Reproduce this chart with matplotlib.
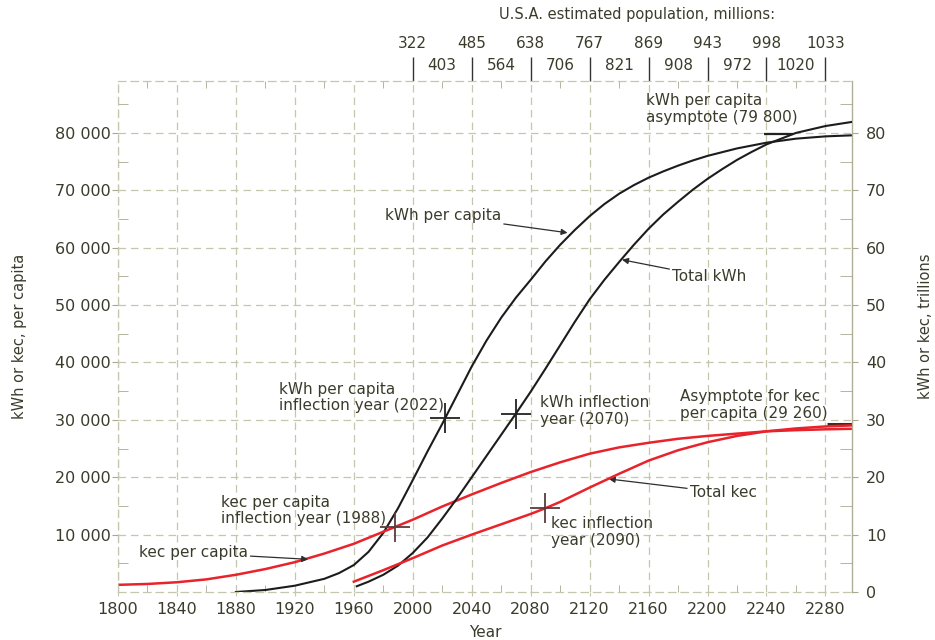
import matplotlib
matplotlib.use("Agg")
import matplotlib.pyplot as plt
from matplotlib.ticker import FixedLocator, FuncFormatter

# ---- data -------------------------------------------------------------
kwh_pc_years = [1880, 1900, 1920, 1940, 1950, 1960, 1970, 1980, 1990, 2000,
                2010, 2020, 2030, 2040, 2050, 2060, 2070, 2080, 2090, 2100,
                2110, 2120, 2130, 2140, 2150, 2160, 2170, 2180, 2190, 2200,
                2220, 2240, 2260, 2280, 2300]
kwh_pc = [0, 350, 1100, 2300, 3300, 4700, 7000, 10300, 14600, 19500,
          24500, 29300, 34300, 39300, 43800, 47800, 51300, 54400, 57600, 60500,
          63100, 65500, 67600, 69400, 70900, 72200, 73300, 74300, 75200, 76000,
          77300, 78300, 79000, 79400, 79600]

kwh_tot_years = [1962, 1970, 1980, 1990, 2000, 2010, 2020, 2030, 2040, 2050,
                 2060, 2070, 2080, 2090, 2100, 2110, 2120, 2130, 2140, 2150,
                 2160, 2170, 2180, 2190, 2200, 2210, 2220, 2230, 2240, 2260,
                 2280, 2300]
kwh_tot = [1.0, 1.8, 3.0, 4.6, 6.8, 9.5, 12.8, 16.3, 20.0, 23.7,
           27.4, 31.1, 34.9, 38.9, 43.0, 47.1, 51.0, 54.4, 57.5, 60.5,
           63.3, 65.8, 68.0, 70.1, 72.0, 73.7, 75.3, 76.7, 78.0, 80.0,
           81.2, 82.0]

kec_pc_years = [1800, 1820, 1840, 1860, 1880, 1900, 1920, 1940, 1960, 1980,
                1988, 2000, 2020, 2040, 2060, 2080, 2100, 2120, 2140, 2160,
                2180, 2200, 2220, 2240, 2260, 2280, 2300]
kec_pc = [1250, 1400, 1700, 2200, 3000, 4000, 5200, 6700, 8400, 10500,
          11340, 12600, 14900, 17000, 19000, 20900, 22600, 24100, 25200, 26000,
          26700, 27200, 27600, 28000, 28200, 28350, 28450]

kec_tot_years = [1960, 1980, 2000, 2020, 2040, 2060, 2080, 2090, 2100, 2120,
                 2140, 2160, 2180, 2200, 2220, 2240, 2260, 2280, 2300]
kec_tot = [1.8, 3.8, 5.9, 8.1, 10.0, 11.8, 13.6, 14.6, 15.7, 18.2,
           20.6, 22.9, 24.7, 26.1, 27.2, 28.0, 28.5, 28.85, 29.05]

kwh_pc_asymptote = 79800
kec_pc_asymptote = 29260

# inflection points: (year, value)
kwh_pc_inflection = (2022, 30300)
kwh_tot_inflection = (2070, 31.1)
kec_pc_inflection = (1988, 11340)
kec_tot_inflection = (2090, 14.6)

pop_years_upper = [2000, 2040, 2080, 2120, 2160, 2200, 2240, 2280]
pop_upper = ["322", "485", "638", "767", "869", "943", "998", "1033"]
pop_years_lower = [2020, 2060, 2100, 2140, 2180, 2220, 2260, 2300]
pop_lower = ["403", "564", "706", "821", "908", "972", "1020", "1055"]

year_ticks = list(range(1800, 2281, 40))
left_ticks = list(range(10000, 80001, 10000))
right_ticks = list(range(0, 81, 10))

# ---- style ------------------------------------------------------------
TXT = "#3b3b2c"
GRID = "#c6c6ae"
BLACK = "#1c1c1c"
RED = "#e8232b"
plt.rcParams["font.family"] = ["DejaVu Sans"]

fig = plt.figure(figsize=(9.35, 6.4), dpi=100)
ax = fig.add_axes([0.1262, 0.075, 0.785, 0.798])
ax2 = ax.twinx()

XMAX = 2298
ax.set_xlim(1800, XMAX)
ax.set_ylim(0, 89000)
ax2.set_ylim(0, 89)

# grid
ax.xaxis.set_major_locator(FixedLocator(year_ticks))
ax.yaxis.set_major_locator(FixedLocator([0] + left_ticks))
ax.grid(True, which="major", linestyle=(0, (6, 4)), color=GRID, lw=0.9)
ax.set_axisbelow(True)

for sp in ("left", "top", "bottom"):
    ax.spines[sp].set_color(GRID)
    ax.spines[sp].set_linestyle((0, (6, 4)))
    ax.spines[sp].set_linewidth(0.9)
for sp in ax2.spines.values():
    sp.set_visible(False)
ax.spines["right"].set_color("#b0b098")
ax.spines["right"].set_linewidth(1.0)

# ---- curves -----------------------------------------------------------
ax.plot(kwh_pc_years, kwh_pc, color=BLACK, lw=1.5)
ax.plot(kec_pc_years, kec_pc, color=RED, lw=1.8)
ax2.plot(kwh_tot_years, kwh_tot, color=BLACK, lw=1.5)
ax2.plot(kec_tot_years, kec_tot, color=RED, lw=1.8)

# inflection crosses
cross = dict(marker="+", markersize=22, markeredgewidth=1.3, linestyle="none")
ax.plot(*kwh_pc_inflection, color="#222222", **cross)
ax2.plot(*kwh_tot_inflection, color="#222222", **cross)
ax.plot(*kec_pc_inflection, color="#5b3a3c", **cross)
ax2.plot(*kec_tot_inflection, color="#5b3a3c", **cross)

# asymptote markers
ax.hlines(kwh_pc_asymptote, 2238, 2258, color="#222222", lw=1.6)
ax.hlines(kec_pc_asymptote, 2281, XMAX, color="#4a2424", lw=2.2)

# ---- annotations ------------------------------------------------------
tkw = dict(fontsize=11, color=TXT, linespacing=1.15)
arrow = dict(arrowstyle="-|>", color="#2e2e2e", lw=0.9, mutation_scale=9,
             shrinkA=0, shrinkB=0)

ax.annotate("kWh per capita", xy=(2105, 62600), xytext=(1981, 65600),
            va="center", ha="left", arrowprops=arrow, **tkw)
ax.annotate("Total kWh", xy=(2142, 57900), xytext=(2176, 54900),
            va="center", ha="left", arrowprops=arrow, **tkw)
ax.text(1909, 33900, "kWh per capita\ninflection year (2022)",
        va="center", ha="left", **tkw)
ax.text(2086, 31500, "kWh inflection\nyear (2070)", va="center", ha="left", **tkw)
ax.text(2158, 84100, "kWh per capita\nasymptote (79 800)",
        va="center", ha="left", **tkw)
ax.text(2181, 32600, "Asymptote for kec\nper capita (29 260)",
        va="center", ha="left", **tkw)
ax.annotate("Total kec", xy=(2133, 19700), xytext=(2188, 17300),
            va="center", ha="left", arrowprops=arrow, **tkw)
ax.text(2094, 10400, "kec inflection\nyear (2090)", va="center", ha="left", **tkw)
ax.text(1870, 14200, "kec per capita\ninflection year (1988)",
        va="center", ha="left", **tkw)
ax.annotate("kec per capita", xy=(1929, 5700), xytext=(1814, 6800),
            va="center", ha="left", arrowprops=arrow, **tkw)

# ---- axes, ticks, labels ---------------------------------------------
ax.xaxis.set_minor_locator(FixedLocator(list(range(1820, 2300, 40))))
ax.yaxis.set_minor_locator(FixedLocator(list(range(5000, 89000, 10000))))
ax.tick_params(axis="x", which="major", length=3, color=GRID, labelsize=11.5,
               labelcolor=TXT, pad=4)
ax.tick_params(axis="x", which="minor", length=5, direction="in", color="#a8a890",
               top=True, bottom=True)
ax.tick_params(axis="y", which="major", length=4, color="#a8a890", labelsize=11.5,
               labelcolor=TXT, pad=1)
ax.tick_params(axis="y", which="minor", length=7, direction="in", color="#a8a890")
ax.set_yticks(left_ticks)
ax.yaxis.set_major_formatter(FuncFormatter(lambda v, p: f"{int(v):,}".replace(",", " ")))

ax2.yaxis.set_major_locator(FixedLocator(right_ticks))
ax2.yaxis.set_minor_locator(FixedLocator(list(range(5, 89, 10))))
ax2.tick_params(axis="y", which="major", length=4, color="#a8a890", labelsize=11.5,
                labelcolor=TXT, pad=6)
ax2.tick_params(axis="y", which="minor", length=9, direction="in", color="#a8a890")

ax.set_xlabel("Year", fontsize=11, color=TXT, labelpad=6)
ax.set_ylabel("kWh or kec, per capita", fontsize=10.5, color=TXT, labelpad=20)
fig.text(925 / 935, 0.49, "kWh or kec, trillions", rotation=90,
         ha="center", va="center", fontsize=10.5, color=TXT)

# population scale along the top
sec = ax.secondary_xaxis("top")
sec.spines["top"].set_visible(False)
sec.set_xticks(pop_years_upper, labels=pop_upper)
sec.set_xticks(pop_years_lower, labels=pop_lower, minor=True)
sec.tick_params(axis="x", which="major", length=17, width=1.0, color="#333333",
                direction="out", labelsize=11, labelcolor=TXT, pad=5)
sec.tick_params(axis="x", which="minor", length=0, labelsize=11,
                labelcolor=TXT, pad=6)

fig.text(637 / 935, 0.978, "U.S.A. estimated population, millions:",
         ha="center", va="center", fontsize=10.5, color=TXT)

fig.savefig("out.png", dpi=100, facecolor="white")
